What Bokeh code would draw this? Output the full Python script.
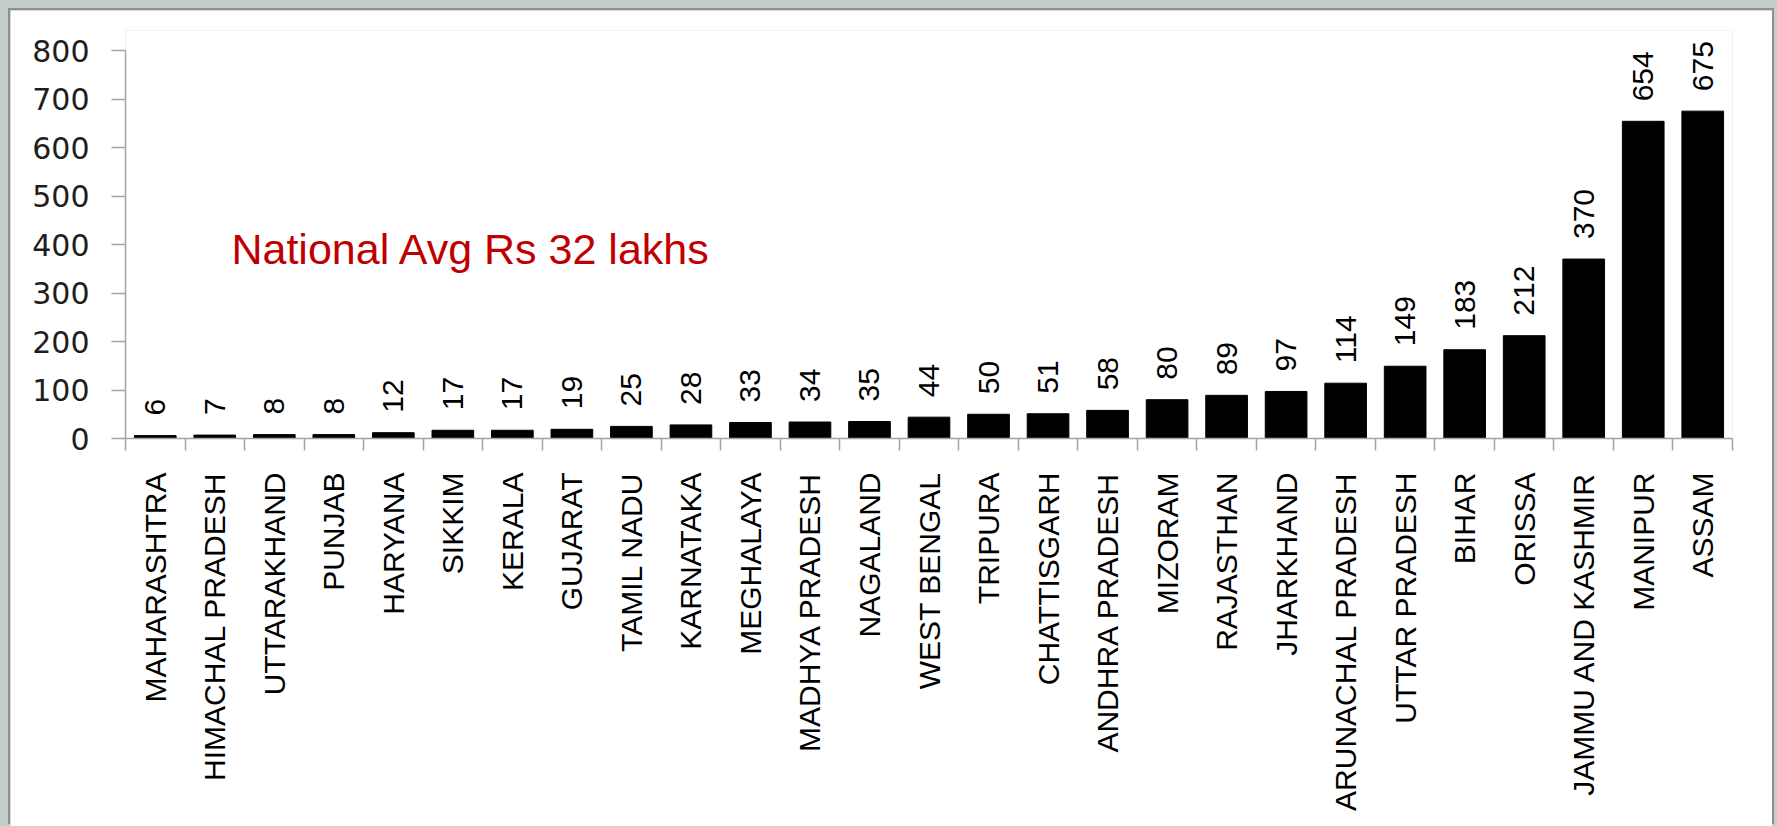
import math
from bokeh.plotting import figure
from bokeh.models import (Range1d, LinearAxis, FixedTicker,
                          ColumnDataSource, Label, GlobalInlineStyleSheet)
from bokeh.core.properties import value
from bokeh.embed import file_html
from bokeh.resources import INLINE

# ---- data ----
states = ["MAHARASHTRA", "HIMACHAL PRADESH", "UTTARAKHAND", "PUNJAB", "HARYANA", "SIKKIM",
          "KERALA", "GUJARAT", "TAMIL NADU", "KARNATAKA", "MEGHALAYA", "MADHYA PRADESH",
          "NAGALAND", "WEST BENGAL", "TRIPURA", "CHATTISGARH", "ANDHRA PRADESH", "MIZORAM",
          "RAJASTHAN", "JHARKHAND", "ARUNACHAL PRADESH", "UTTAR PRADESH", "BIHAR", "ORISSA",
          "JAMMU AND KASHMIR", "MANIPUR", "ASSAM"]
values = [6, 7, 8, 8, 12, 17, 17, 19, 25, 28, 33, 34, 35, 44, 50, 51, 58, 80, 89, 97,
          114, 149, 183, 212, 370, 654, 675]
y_ticks = [0, 100, 200, 300, 400, 500, 600, 700, 800]
note_text = "National Avg Rs 32 lakhs"

AXIS_GREY = "#a3a3a3"
n = len(states)
centers = [i + 0.5 for i in range(n)]          # category slot centres
bounds_ticks = list(range(n + 1))               # slot boundaries

src = ColumnDataSource(dict(x=centers, state=states, value=values,
                            label=[str(v) for v in values]))

p = figure(width=1762, height=816,
           x_range=Range1d(0, n),
           y_range=Range1d(0, 841.24),
           output_backend="svg", toolbar_location=None,
           x_axis_location=None, y_axis_location=None,
           min_border_left=115, min_border_right=40,
           min_border_top=20, min_border_bottom=388,
           background_fill_color="white", border_fill_color="white",
           outline_line_color=None)
p.xgrid.visible = False
p.ygrid.visible = False

# y axis
yaxis = LinearAxis(ticker=FixedTicker(ticks=y_ticks), bounds=(0, 800))
yaxis.axis_line_color = AXIS_GREY
yaxis.axis_line_width = 1.5
yaxis.major_tick_line_color = AXIS_GREY
yaxis.major_tick_line_width = 1.5
yaxis.major_tick_out = 14
yaxis.major_tick_in = 0
yaxis.minor_tick_line_color = None
yaxis.major_label_standoff = 22
yaxis.major_label_text_font = "DejaVu Sans"
yaxis.major_label_text_font_size = "30px"
yaxis.major_label_text_color = "#1e1e1e"
p.add_layout(yaxis, "left")

# boundary ticks axis (Excel-style ticks between categories)
tick_axis = LinearAxis(ticker=FixedTicker(ticks=bounds_ticks))
tick_axis.axis_line_color = AXIS_GREY
tick_axis.axis_line_width = 1.5
tick_axis.major_tick_line_color = AXIS_GREY
tick_axis.major_tick_line_width = 1.5
tick_axis.major_tick_out = 12
tick_axis.major_tick_in = 0
tick_axis.minor_tick_line_color = None
tick_axis.major_label_standoff = 0
tick_axis.major_label_text_font_size = "0px"
tick_axis.major_label_overrides = {t: "" for t in bounds_ticks}
p.add_layout(tick_axis, "below")

# category labels axis
cat_axis = LinearAxis(ticker=FixedTicker(ticks=centers))
cat_axis.major_label_overrides = {c: s for c, s in zip(centers, states)}
cat_axis.axis_line_color = None
cat_axis.major_tick_line_color = None
cat_axis.minor_tick_line_color = None
cat_axis.major_label_orientation = math.pi / 2
cat_axis.major_label_standoff = 16
cat_axis.major_label_text_font = "Liberation Sans"
cat_axis.major_label_text_font_size = "30px"
cat_axis.major_label_text_color = "#000000"
p.add_layout(cat_axis, "below")

# bars
p.vbar(x="x", top="value", bottom=0, width=0.70, source=src,
       fill_color="#000000", line_color="#000000")

# value labels
p.text(x="x", y="value", text="label", source=src, angle=math.pi / 2,
       text_align="left", text_baseline="middle", y_offset=-20,
       text_font=value("Liberation Sans"), text_font_size="30px", text_color="#000000")

# annotation
p.add_layout(Label(x=1.78, y=391.0, text=note_text, text_font="Liberation Sans",
                   text_font_size="43px", text_color="#c00000",
                   text_baseline="alphabetic", text_align="left"))

p.stylesheets = [GlobalInlineStyleSheet(css="html, body { background-color: #c4cfcb; }")]
p.styles = {"margin-left": "10px", "margin-top": "10px",
            "box-shadow": "-2px -2px 0 0 #8f8f8f, 2px -2px 0 0 #8f8f8f"}

open("out.html", "w").write(file_html(p, INLINE))
